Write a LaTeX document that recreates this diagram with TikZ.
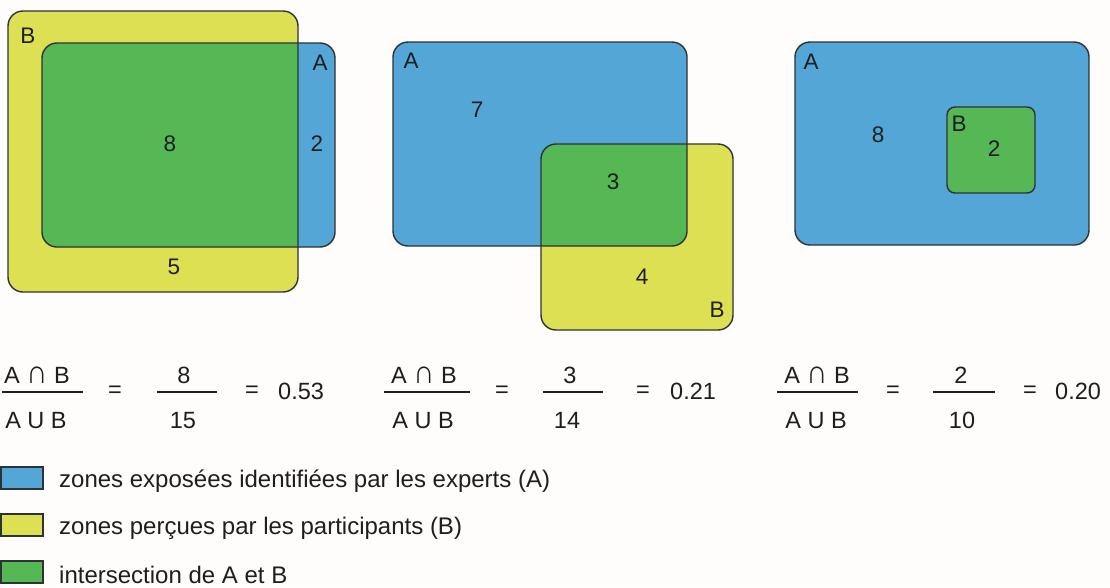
\documentclass[tikz,border=0pt]{standalone}
\usepackage{fontspec}
\usepackage{graphicx}
\setmainfont{Liberation Sans}
\definecolor{cA}{RGB}{84,166,214}
\definecolor{cB}{RGB}{222,224,84}
\definecolor{cI}{RGB}{86,184,84}
\definecolor{cL}{RGB}{45,50,55}
\definecolor{cT}{RGB}{30,30,30}
\definecolor{bg}{RGB}{255,253,251}
\newcommand{\myinter}{\scalebox{1.25}[1.4]{∩}}
\begin{document}
\begin{tikzpicture}[x=1pt,y=-1pt,
  outl/.style={draw=cL,line width=1.4pt,rounded corners=15pt},
  lbl/.style={inner sep=0pt,text=cT,font=\fontsize{22.5}{26}\selectfont},
  ftxt/.style={inner sep=0pt,text=cT,font=\fontsize{23.5}{27}\selectfont,anchor=base},
  fbar/.style={draw=cT,line width=2.4pt},
  leg/.style={inner sep=0pt,text=cT,font=\fontsize{24}{28}\selectfont,anchor=base west},
  swatch/.style={draw=cL,line width=1.2pt}]
\useasboundingbox (0,0) rectangle (1110,587);
\fill[bg] (0,0) rectangle (1110,587);

% ---------- diagram 1 ----------
\fill[cB,rounded corners=15pt] (8,11) rectangle (298,292);
\fill[cA,rounded corners=15pt] (42,43) rectangle (335,247);
\begin{scope}
  \clip[rounded corners=15pt] (8,11) rectangle (298,292);
  \fill[cI,rounded corners=15pt] (42,43) rectangle (335,247);
\end{scope}
\draw[outl] (8,11) rectangle (298,292);
\draw[outl] (42,43) rectangle (335,247);
\node[lbl] (d1B) at (28,36) {B};
\node[lbl] (d1A) at (320,63) {A};
\node[lbl] (d1i) at (170,144) {8};
\node[lbl] (d1a) at (317,144) {2};
\node[lbl] (d1b) at (174,267) {5};

% ---------- diagram 2 ----------
\fill[cA,rounded corners=15pt] (393,42) rectangle (687,246);
\fill[cB,rounded corners=15pt] (541,144) rectangle (733,330);
\begin{scope}
  \clip[rounded corners=15pt] (393,42) rectangle (687,246);
  \fill[cI,rounded corners=15pt] (541,144) rectangle (733,330);
\end{scope}
\draw[outl] (393,42) rectangle (687,246);
\draw[outl] (541,144) rectangle (733,330);
\node[lbl] (d2A) at (411,61) {A};
\node[lbl] (d2a) at (477,110) {7};
\node[lbl] (d2i) at (613,182) {3};
\node[lbl] (d2b) at (642,277) {4};
\node[lbl] (d2B) at (717,310) {B};

% ---------- diagram 3 ----------
\fill[cA,rounded corners=15pt] (795,42) rectangle (1089,245);
\draw[outl] (795,42) rectangle (1089,245);
\fill[cI,rounded corners=8pt] (947,107) rectangle (1035,193);
\draw[outl,rounded corners=8pt] (947,107) rectangle (1035,193);
\node[lbl] (d3A) at (811,62) {A};
\node[lbl] (d3a) at (878,135) {8};
\node[lbl] (d3B) at (959,124) {B};
\node[lbl] (d3i) at (994,149) {2};

% ---------- formulas ----------
% group 1
\draw[fbar] (2,392) -- (83,392);
\node[ftxt] (g1n) at (37,383) {A \myinter{} B};
\node[ftxt] (g1d) at (36,428) {A U B};
\node[ftxt,anchor=center] (g1e1) at (115,392) {=};
\draw[fbar] (157,392) -- (217,392);
\node[ftxt] (g1nn) at (184,383) {8};
\node[ftxt] (g1dd) at (183,428) {15};
\node[ftxt,anchor=center] (g1e2) at (252,392) {=};
\node[ftxt,anchor=base west] (g1v) at (278,399) {0.53};
% group 2
\draw[fbar] (384,392) -- (470,392);
\node[ftxt] (g2n) at (424,383) {A \myinter{} B};
\node[ftxt] (g2d) at (423,428) {A U B};
\node[ftxt,anchor=center] (g2e1) at (502,392) {=};
\draw[fbar] (543,392) -- (603,392);
\node[ftxt] (g2nn) at (570,383) {3};
\node[ftxt] (g2dd) at (567,428) {14};
\node[ftxt,anchor=center] (g2e2) at (643,392) {=};
\node[ftxt,anchor=base west] (g2v) at (670,399) {0.21};
% group 3
\draw[fbar] (777,392) -- (858,392);
\node[ftxt] (g3n) at (817,383) {A \myinter{} B};
\node[ftxt] (g3d) at (816,428) {A U B};
\node[ftxt,anchor=center] (g3e1) at (893,392) {=};
\draw[fbar] (933,392) -- (995,392);
\node[ftxt] (g3nn) at (961,383) {2};
\node[ftxt] (g3dd) at (962,428) {10};
\node[ftxt,anchor=center] (g3e2) at (1030,392) {=};
\node[ftxt,anchor=base west] (g3v) at (1055,399) {0.20};

% ---------- legend ----------
\filldraw[swatch,fill=cA] (1,467) rectangle (43,489);
\node[leg] (l1) at (59,487) {zones exposées identifiées par les experts (A)};
\filldraw[swatch,fill=cB] (1,514) rectangle (43,536);
\node[leg] (l2) at (59,534) {zones perçues par les participants (B)};
\filldraw[swatch,fill=cI] (1,561) rectangle (43,583);
\node[leg] (l3) at (59,583) {intersection de A et B};
\end{tikzpicture}
\end{document}
